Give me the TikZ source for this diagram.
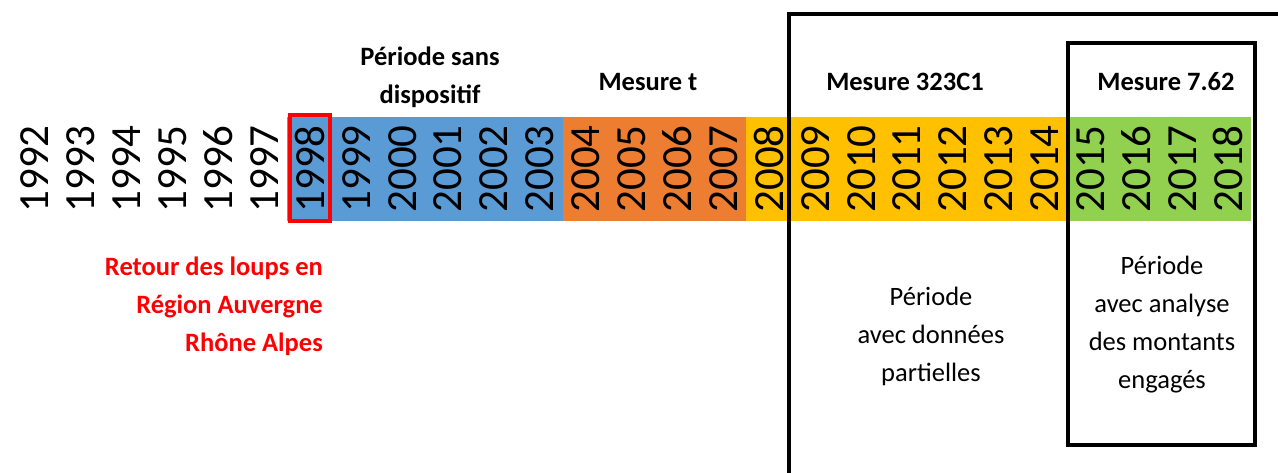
\documentclass[tikz,border=0pt]{standalone}
\usepackage{fontspec}
\setmainfont{Carlito}
\usetikzlibrary{positioning}

\definecolor{bleu}{HTML}{5B9BD5}
\definecolor{orange}{HTML}{ED7D31}
\definecolor{jaune}{HTML}{FFC000}
\definecolor{vert}{HTML}{92D050}
\definecolor{rouge}{HTML}{FF0000}

\begin{document}
\begin{tikzpicture}[x=1pt,y=-1pt,
	annee/.style={rotate=90, inner sep=0pt, font=\fontsize{43}{43}\selectfont},
	titre/.style={align=center, inner sep=0pt, font=\bfseries\fontsize{26.5}{38}\selectfont},
	texte/.style={align=center, inner sep=0pt, font=\fontsize{26.5}{38}\selectfont},
	cadre/.style={line width=4.5pt}]
			% Fix the page to the size of the picture
			\useasboundingbox (0,0) rectangle (1278,473);
			\clip (0,0) rectangle (1278,473);

			% Width of one year column
			\def\col{45.9}

			% Coloured periods of the bar
			\fill[bleu] ({12.05+\col*6},117) rectangle ({12.05+\col*12},221);
			\fill[orange] ({12.05+\col*12},117) rectangle ({12.05+\col*16},221);
			\fill[jaune] ({12.05+\col*16},117) rectangle ({12.05+\col*23},221);
			\fill[vert] ({12.05+\col*23},117) rectangle ({12.05+\col*27},221);

			% Years
			\foreach \a [count=\i from 0] in {1992,...,2018}
				{\node[annee] (y\a) at ({35+\col*\i},169) {\a};}

			% 1998 highlighted
			\draw[rouge, line width=4pt] (289.5,115) rectangle (330,221);

			% Frames of the two measures
			\draw[cadre] (789,14) rectangle (1320,520);
			\draw[cadre] (1068,43) rectangle (1255,445);

			% Labels above the bar
			\node[titre] (sans) at (430,77) {Période sans\\dispositif};
			\node[titre] (mt) at (648,82) {Mesure t};
			\node[titre] (m323) at (905,82) {Mesure 323C1};
			\node[titre] (m762) at (1166,82) {Mesure 7.62};

			% Labels below the bar
			\node[titre, rouge, align=right, anchor=east] (loups) at (323,306) {Retour des loups en\\Région Auvergne\\Rhône Alpes};
			\node[texte] (partiel) at (931,336) {Période\\avec données\\partielles};
			\node[texte] (analyse) at (1162,325) {Période\\avec analyse\\des montants\\engagés};
		\end{tikzpicture}
\end{document}
